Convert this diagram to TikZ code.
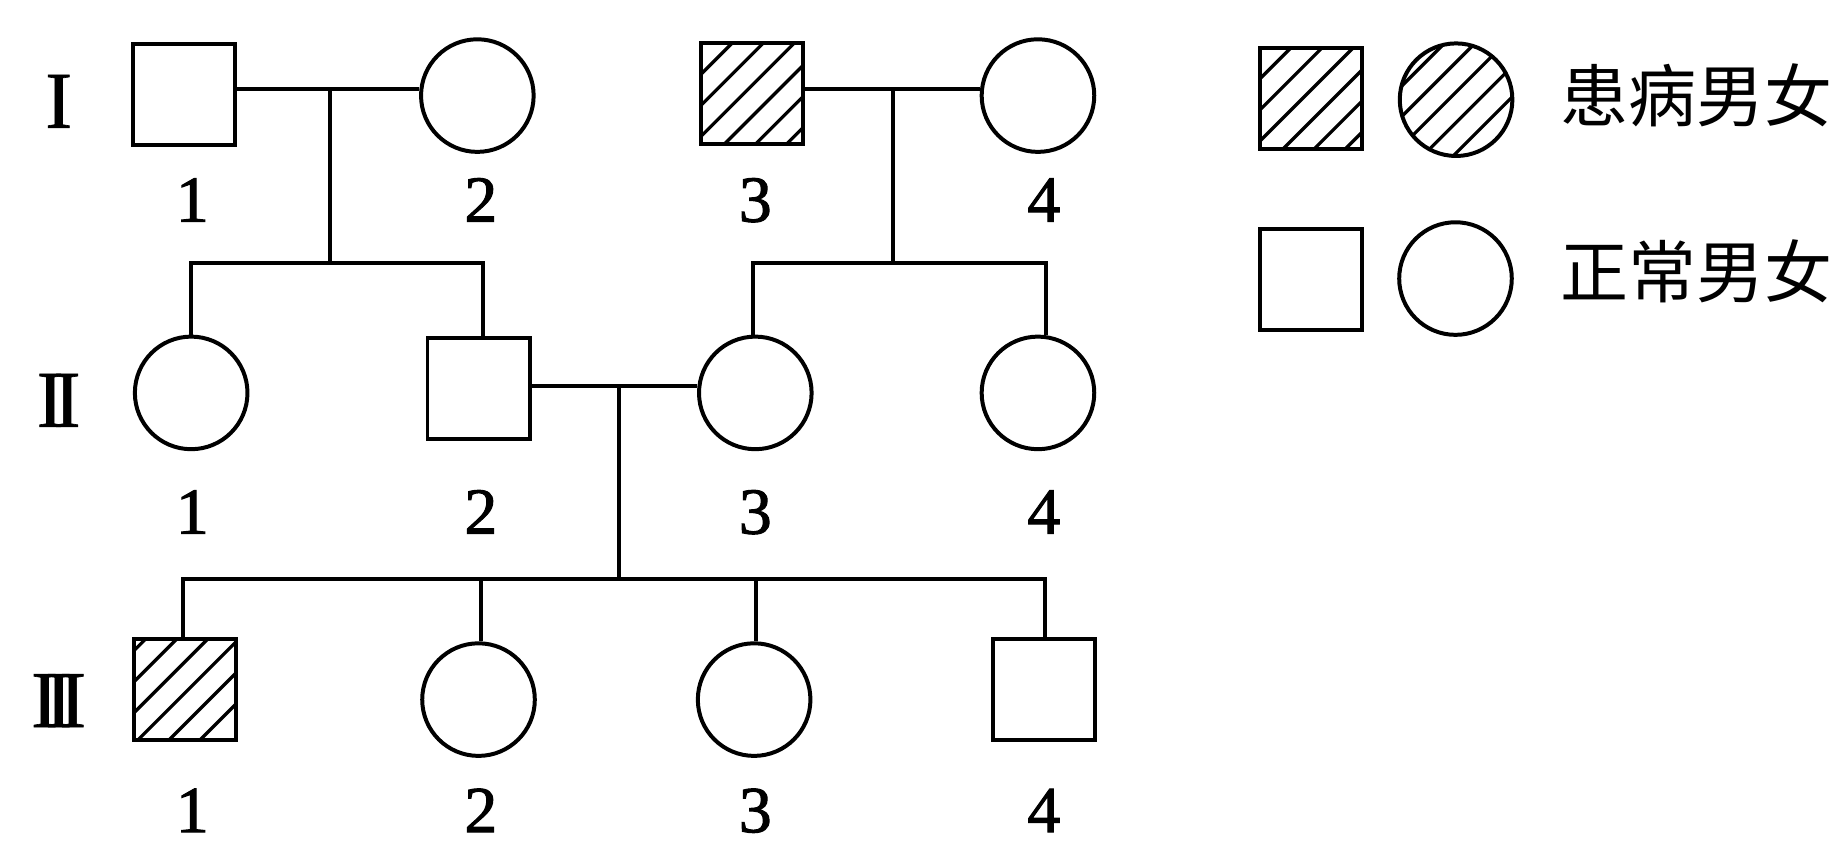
\documentclass[tikz,border=0pt]{standalone}
\usepackage{fontspec}
\setmainfont{Liberation Serif}
\newfontfamily\numfont[FakeBold=1.6]{Liberation Serif}
\newfontfamily\genfont[FakeBold=0.8]{Liberation Serif}
\newfontfamily\cjkfont{Noto Sans CJK SC}
\usetikzlibrary{calc}
\tikzset{
  conn/.style={line width=3.4pt},
  sq/.style={draw, line width=3.4pt, rectangle, minimum width=87pt, minimum height=86pt, inner sep=0pt},
  cir/.style={draw, line width=3.4pt, circle, minimum size=96pt, inner sep=0pt},
  hatchline/.style={line width=2.8pt},
  hatchsq/.style={path picture={\foreach \k in {#1} {\draw[hatchline] ($(path picture bounding box.north west)+(\k,0)+(150,-150)$) -- ($(path picture bounding box.north west)+(\k,0)+(-150,150)$);}}},
  hatchcirc/.style={path picture={\foreach \k in {#1} {\draw[hatchline] ($(path picture bounding box.center)+(\k,0)+(150,-150)$) -- ($(path picture bounding box.center)+(\k,0)+(-150,150)$);}}},
  num/.style={anchor=base, inner sep=0pt, font=\numfont\fontsize{56}{60}\selectfont},
  gen/.style={anchor=base, inner sep=0pt, font=\genfont\fontsize{69}{72}\selectfont},
  cjk/.style={anchor=base west, inner sep=0pt, font=\cjkfont\fontsize{58}{62}\selectfont}
}
\begin{document}
\begin{tikzpicture}[x=1pt,y=-1pt]
\useasboundingbox (0,0) rectangle (1568,736);
% generation labels
\node[gen] (g1) at (50,109) {I};
\node[gen] (g2) at (50,364) {I\kern-8.6pt I};
\node[gen] (g3) at (50,620) {I\kern-11pt I\kern-11pt I};
% generation I
\node[sq] (i1) at (157,80.5) {};
\node[cir] (i2) at (407,81.5) {};
\node[sq, hatchsq={26,52.5,79,105.5,132,158.5}] (i3) at (641.5,80) {};
\node[cir] (i4) at (885,81.5) {};
% generation II
\node[cir] (ii1) at (163,335) {};
\node[sq] (ii2) at (408,331) {};
\node[cir] (ii3) at (644,335) {};
\node[cir] (ii4) at (885,335) {};
% generation III
\node[sq, hatchsq={10,36.5,63,89.5,116,142.5}] (iii1) at (157.5,588) {};
\node[cir] (iii2) at (408,596.5) {};
\node[cir] (iii3) at (643,596.5) {};
\node[sq] (iii4) at (890,588) {};
% numbers
\node[num] (n11) at (164,189) {1};
\node[num] (n12) at (410,189) {2};
\node[num] (n13) at (644,189) {3};
\node[num] (n14) at (890,189) {4};
\node[num] (n21) at (164,455) {1};
\node[num] (n22) at (410,455) {2};
\node[num] (n23) at (644,455) {3};
\node[num] (n24) at (890,455) {4};
\node[num] (n31) at (164,709.5) {1};
\node[num] (n32) at (410,709.5) {2};
\node[num] (n33) at (644,709.5) {3};
\node[num] (n34) at (890,709.5) {4};
% legend
\node[sq, hatchsq={26,52.5,79,105.5,132,158.5}] (lsq1) at (1118,84) {};
\node[cir, hatchcirc={-58,-32,-6.5,19.5,45.5}] (lc1) at (1241.5,85) {};
\node[cjk] (t1) at (1330,104) {患病男女};
\node[sq] (lsq2) at (1118,238) {};
\node[cir] (lc2) at (1241,237.5) {};
\node[cjk] (t2) at (1330,253.5) {正常男女};
% connectors: family I-1 x I-2
\coordinate (mI) at (281,76);
\coordinate (sI) at (281,224);
\coordinate (sIa) at (163,224);
\coordinate (sIb) at (412,224);
\draw[conn] (mI -| i1.east) -- (mI -| i2.west);
\draw[conn] (mI) -- (sI);
\draw[conn] (sIa |- ii1.north) -- (sIa) -- (sIb) -- (sIb |- ii2.north);
% family I-3 x I-4
\coordinate (mIr) at (761,76);
\coordinate (sIr) at (761,224);
\coordinate (sIra) at (642,224);
\coordinate (sIrb) at (892,224);
\draw[conn] (mIr -| i3.east) -- (mIr -| i4.west);
\draw[conn] (mIr) -- (sIr);
\draw[conn] (sIra |- ii3.north) -- (sIra) -- (sIrb) -- (sIrb |- ii4.north);
% family II-2 x II-3
\coordinate (mII) at (528,329);
\coordinate (sII) at (528,494);
\coordinate (sIIa) at (156,494);
\coordinate (sIIb) at (891,494);
\coordinate (sIIc) at (410,494);
\coordinate (sIId) at (645,494);
\draw[conn] (mII -| ii2.east) -- (mII -| ii3.west);
\draw[conn] (mII) -- (sII);
\draw[conn] (sIIa |- iii1.north) -- (sIIa) -- (sIIb) -- (sIIb |- iii4.north);
\draw[conn] (sIIc) -- (sIIc |- iii2.north);
\draw[conn] (sIId) -- (sIId |- iii3.north);
\end{tikzpicture}
\end{document}
